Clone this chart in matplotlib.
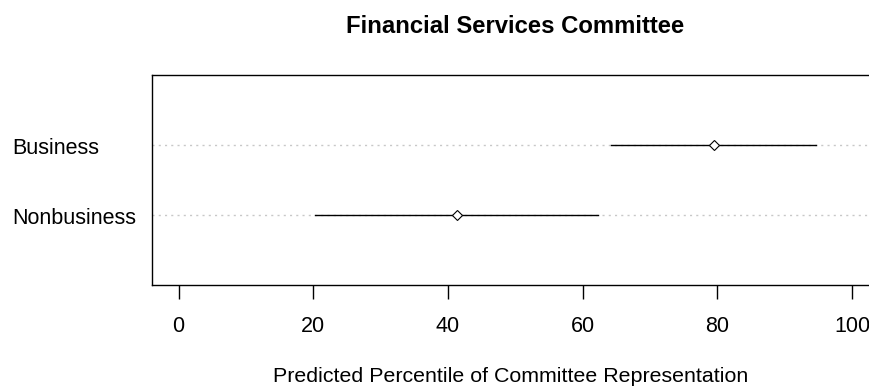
import matplotlib.pyplot as plt
import matplotlib.transforms as mtransforms

plt.rcParams['font.family'] = ['Liberation Sans', 'DejaVu Sans']

# predicted percentile with lower/upper bounds, by group
groups = ['Business', 'Nonbusiness']
estimates = [79.5, 41.3]
lower = [64.2, 20.3]
upper = [94.7, 62.3]
positions = [2, 1]
xticks = [0, 20, 40, 60, 80, 100]

fig = plt.figure(figsize=(8.7, 3.88), dpi=100)
# right edge of the frame runs past the figure edge, like the R device crop
ax = fig.add_axes([0.1744, 0.2655, 0.8359, 0.5412])

for y in positions:
    ax.axhline(y, color='#c8c8c8', lw=1.0, linestyle=(0, (1.5, 3)), zorder=1)

for y, est, lo, hi in zip(positions, estimates, lower, upper):
    ax.plot([lo, hi], [y, y], color='black', lw=1.0, zorder=2)
    ax.plot(est, y, marker='D', markersize=5, mfc='white', mec='black',
            mew=0.8, zorder=3)

ax.set_xlim(-4, 104)
ax.set_ylim(0, 3)
ax.set_xticks(xticks)
ax.set_xticklabels([str(t) for t in xticks], fontsize=15.5)
ax.set_yticks([])
ax.tick_params(axis='x', length=10, width=1.0, pad=12, color='black')
for sp in ax.spines.values():
    sp.set_linewidth(1.0)

# group labels sit flush left in the margin, baseline a little below the row
trans = mtransforms.blended_transform_factory(fig.transFigure, ax.transData)
trans = trans + mtransforms.ScaledTranslation(0, -9.5 / 100, fig.dpi_scale_trans)
for y, name in zip(positions, groups):
    ax.text(12 / 870, y, name, transform=trans, ha='left', va='baseline',
            fontsize=15.5)

fig.text(515 / 870, 1 - 33 / 388, 'Financial Services Committee',
         ha='center', va='baseline', fontsize=17.2, fontweight='bold')
fig.text(511 / 870, 1 - 382 / 388,
         'Predicted Percentile of Committee Representation',
         ha='center', va='baseline', fontsize=15.4)

fig.savefig('out.png', dpi=100)
